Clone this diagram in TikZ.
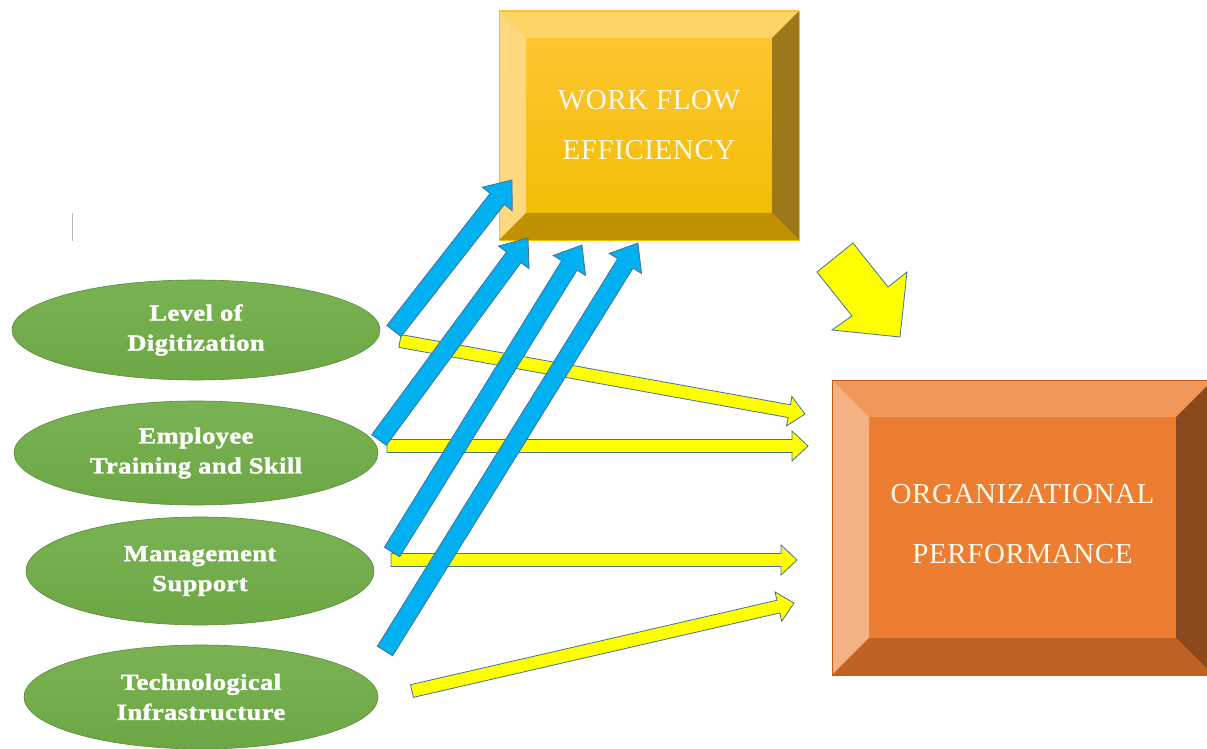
\documentclass[tikz,border=0pt]{standalone}
\usepackage{fontspec}
\setmainfont{Liberation Serif}
\newfontfamily\factorfont[FakeBold=1.6, FakeStretch=1.15, LetterSpace=2]{Liberation Serif}
\newfontfamily\titlefont[LetterSpace=2]{Liberation Serif}
\usetikzlibrary{calc,shapes.geometric}

\definecolor{leaf}{HTML}{70AD47}
\definecolor{sky}{HTML}{00B0F0}
\definecolor{edge}{HTML}{41719C}
\definecolor{lemon}{HTML}{FFFF00}
\definecolor{cream}{HTML}{FFF9EC}
% gold box
\definecolor{gold-facetop}{HTML}{FFC736}
\definecolor{gold-facebot}{HTML}{F0BC00}
\definecolor{gold-top}{HTML}{FFD466}
\definecolor{gold-left}{HTML}{FFD97F}
\definecolor{gold-right}{HTML}{9C7818}
\definecolor{gold-bot}{HTML}{BF9000}
\definecolor{gold-edge}{HTML}{FFC000}
% orange box
\definecolor{orange-facetop}{HTML}{ED7D31}
\definecolor{orange-facebot}{HTML}{ED7D31}
\definecolor{orange-top}{HTML}{F0985A}
\definecolor{orange-left}{HTML}{F4B183}
\definecolor{orange-right}{HTML}{8B4A1E}
\definecolor{orange-bot}{HTML}{BE6325}
\definecolor{orange-edge}{HTML}{C55A11}

\tikzset{
	shaftw/.store in=\shaftw, headw/.store in=\headw, headl/.store in=\headl,
	shaftw=18, headw=38, headl=24,
	factor/.style={ellipse, draw=leaf!80!black, line width=0.6pt, top color=leaf!94!white, bottom color=leaf!97!black,
		inner sep=0pt, align=center, text=white, font=\factorfont\bfseries\fontsize{23}{30}\selectfont},
	bevelbox/.style 2 args={rectangle, inner sep=0pt, align=center, text=cream, draw=#2-edge, line width=0.6pt,
		top color=#2-facetop, bottom color=#2-facebot, font=\titlefont\fontsize{29}{50}\selectfont,
		path picture={
			\coordinate (nw) at (path picture bounding box.north west);
			\coordinate (ne) at (path picture bounding box.north east);
			\coordinate (sw) at (path picture bounding box.south west);
			\coordinate (se) at (path picture bounding box.south east);
			\fill[#2-top] (nw) -- (ne) -- ([xshift=-#1pt,yshift=-#1pt]ne) -- ([xshift=#1pt,yshift=-#1pt]nw) -- cycle;
			\fill[#2-left] (nw) -- (sw) -- ([xshift=#1pt,yshift=#1pt]sw) -- ([xshift=#1pt,yshift=-#1pt]nw) -- cycle;
			\fill[#2-right] (ne) -- (se) -- ([xshift=-#1pt,yshift=#1pt]se) -- ([xshift=-#1pt,yshift=-#1pt]ne) -- cycle;
			\fill[#2-bot] (sw) -- (se) -- ([xshift=-#1pt,yshift=#1pt]se) -- ([xshift=#1pt,yshift=#1pt]sw) -- cycle;
		}},
	toflow/.style={fill=sky, draw=edge, line width=0.8pt, shaftw=18, headw=38, headl=24},
	toperf/.style={fill=lemon, draw=edge, line width=0.8pt, shaftw=13, headw=30, headl=16}
}

% block arrow from #2 to #3
\newcommand\blockarrow[3][]{%
	\draw[#1] let \p1=($(#3)-(#2)$), \n1={atan2(\y1,\x1)}, \n2={veclen(\x1,\y1)} in
		[shift={(#2)}, rotate=\n1]
		(0,-\shaftw/2) -- (\n2-\headl,-\shaftw/2) -- (\n2-\headl,-\headw/2) -- (\n2,0)
		-- (\n2-\headl,\headw/2) -- (\n2-\headl,\shaftw/2) -- (0,\shaftw/2) -- cycle;
}

\begin{document}
\begin{tikzpicture}[x=1pt, y=1pt]
	\useasboundingbox (0,0) rectangle (1207,748);
	
	\node[factor, minimum width=368, minimum height=100] (lod) at (196,418) {Level of\\Digitization};
	\node[factor, minimum width=364, minimum height=104] (ets) at (196,295) {Employee\\Training and Skill};
	\node[factor, minimum width=348, minimum height=108] (ms) at (200,177) {Management\\Support};
	\node[factor, minimum width=354, minimum height=104] (ti) at (201,51) {Technological\\Infrastructure};
	
	\node[bevelbox={27}{gold}, minimum width=300, minimum height=229] (wfe) at (649,622.5) {WORK FLOW\\EFFICIENCY};
	\node[bevelbox={37}{orange}, minimum width=381, minimum height=295, font=\titlefont\fontsize{29}{60}\selectfont] (op) at (1022.5,220.5) {ORGANIZATIONAL\\PERFORMANCE\\[-52pt]};
	
	\draw[gray!55, line width=1pt] (72,535) -- (72,507);
	
	% arrow ends
	\coordinate (lod-y) at (400,407);  \coordinate (op-1) at (805,334);
	\coordinate (ets-y) at (387,302);  \coordinate (op-2) at (808,302);
	\coordinate (ms-y) at (391,188);   \coordinate (op-3) at (797,188);
	\coordinate (ti-y) at (412,57);    \coordinate (op-4) at (794,145);
	\coordinate (lod-b) at (394,417);  \coordinate (wfe-1) at (512,568);
	\coordinate (ets-b) at (379,308);  \coordinate (wfe-2) at (528,510);
	\coordinate (ms-b) at (392,196);   \coordinate (wfe-3) at (582,503);
	\coordinate (ti-b) at (385,97);    \coordinate (wfe-4) at (638,505);
	
	\blockarrow[toperf]{lod-y}{op-1}
	\blockarrow[toperf]{ets-y}{op-2}
	\blockarrow[toperf]{ms-y}{op-3}
	\blockarrow[toperf]{ti-y}{op-4}
	
	\blockarrow[toflow]{lod-b}{wfe-1}
	\blockarrow[toflow]{ets-b}{wfe-2}
	\blockarrow[toflow]{ms-b}{wfe-3}
	\blockarrow[toflow]{ti-b}{wfe-4}
	
	% wfe to op
	\draw[fill=lemon, draw=edge, line width=0.8pt] (817,476) -- (853,505) -- (888,461) -- (907,476)
		-- (900,411) -- (832,418) -- (852,432) -- cycle;
\end{tikzpicture}
\end{document}
